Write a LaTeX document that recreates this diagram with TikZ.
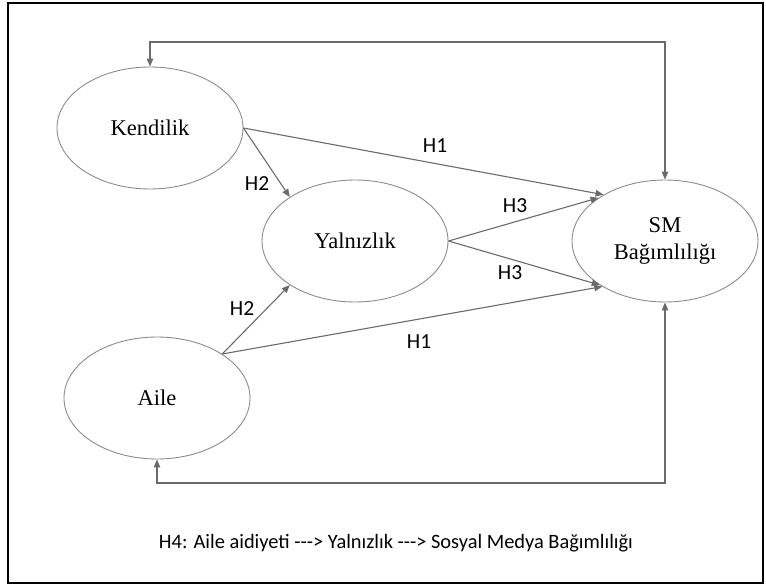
\documentclass[tikz,border=0pt]{standalone}
\usepackage{fontspec}
\setmainfont{Liberation Serif}
\newfontfamily\calib{Carlito}
\usetikzlibrary{arrows.meta,shapes.geometric}
\begin{document}
\begin{tikzpicture}[x=1pt,y=-1pt,
  latent/.style={ellipse,draw=black!45,line width=0.9pt,minimum width=186pt,minimum height=122pt,inner sep=0pt,
    font=\fontsize{22.5}{27}\selectfont,align=center},
  conn/.style={draw=black!58,line width=1.1pt,-{Triangle[length=8pt,width=6.5pt]}},
  loop/.style={draw=black!58,line width=1.1pt,{Triangle[length=8pt,width=6.5pt]}-{Triangle[length=8pt,width=6.5pt]}},
  hlab/.style={font=\calib\fontsize{21.5}{24}\selectfont,inner sep=0pt},
  caption/.style={font=\calib\fontsize{20.4}{23}\selectfont,inner sep=0pt}]
\useasboundingbox (0,0) rectangle (766,585);
\draw[line width=2.2pt,black] (8,3) rectangle (763,583);

\node[latent] (kend) at (150,128) {Kendilik};
\node[latent] (yal) at (355,241) {Yalnızlık};
\node[latent] (sm) at (665,241) {SM\\Bağımlılığı};
\node[latent] (aile) at (157,398) {Aile};

\draw[conn] (kend.east) -- (yal.146);
\draw[conn] (kend.east) -- (sm.143);
\draw[conn] (yal.east) -- (sm.147);
\draw[conn] (yal.east) -- (sm.214);
\draw[conn] (aile.34) -- (yal.214);
\draw[conn] (aile.34) -- (sm.216);

\draw[loop] (sm.north) |- (150,42) -- (kend.north);
\draw[loop] (sm.south) |- (157,483) -- (aile.south);

\node[hlab] (h1a) at (435,146) {H1};
\node[hlab] (h2a) at (257,184) {H2};
\node[hlab] (h3a) at (515,206) {H3};
\node[hlab] (h3b) at (510,273) {H3};
\node[hlab] (h2b) at (242,309) {H2};
\node[hlab] (h1b) at (419,342) {H1};

\node[caption] (cap) at (396,543) {H4: Aile aidiyeti ---> Yalnızlık ---> Sosyal Medya Bağımlılığı};
\end{tikzpicture}
\end{document}
